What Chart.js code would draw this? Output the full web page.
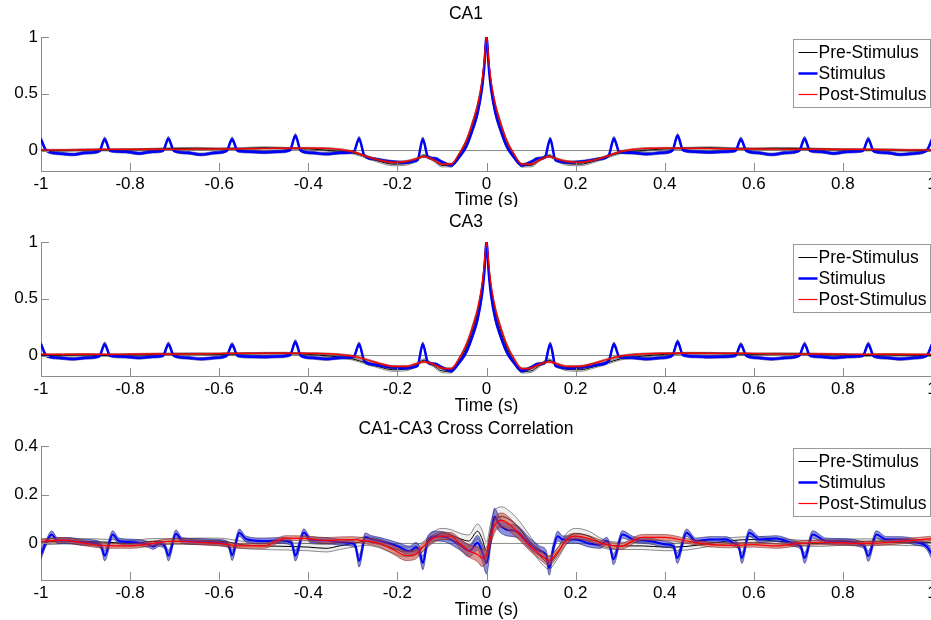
<!DOCTYPE html>
<html>
<head>
<meta charset="utf-8">
<title>CA1 / CA3 correlations</title>
<script src="https://cdn.jsdelivr.net/npm/chart.js@4.4.1/dist/chart.umd.min.js"></script>
<style>
  html, body { margin: 0; padding: 0; background: #fff; overflow: hidden; width: 931px; height: 620px; }
  canvas { position: absolute; left: 0; display: block; }
</style>
</head>
<body>
<canvas id="ca1" width="940" height="207" style="top:0px"></canvas>
<canvas id="ca3" width="940" height="207" style="top:207px"></canvas>
<canvas id="xc" width="940" height="206" style="top:414px"></canvas>
<script>
// ---------- axes ----------
const xTickVals = [-1, -0.8, -0.6, -0.4, -0.2, 0, 0.2, 0.4, 0.6, 0.8, 1];
const xTickLabels = ['-1', '-0.8', '-0.6', '-0.4', '-0.2', '0', '0.2', '0.4', '0.6', '0.8', '1'];
const autoYTicks = [0, 0.5, 1];
const autoYLabels = ['0', '0.5', '1'];
const xcYTicks = [0, 0.2, 0.4];
const xcYLabels = ['0', '0.2', '0.4'];
const seriesNames = ['Pre-Stimulus', 'Stimulus', 'Post-Stimulus'];

// ---------- autocorrelations (CA1, CA3) ----------
// lag grid for the Pre / Post curves
const tSmooth = [-1,-0.95,-0.9,-0.85,-0.8,-0.75,-0.7,-0.65,-0.6,-0.55,-0.5,-0.45,-0.4,-0.35,
  -0.3,-0.27,-0.24,-0.21,-0.18,-0.16,-0.14,-0.12,-0.1,-0.08,-0.06,-0.045,-0.03,-0.02,-0.01,-0.005,
  0,
  0.005,0.01,0.02,0.03,0.045,0.06,0.08,0.1,0.12,0.14,0.16,0.18,0.21,0.24,0.27,0.3,
  0.35,0.4,0.45,0.5,0.55,0.6,0.65,0.7,0.75,0.8,0.85,0.9,0.95,1];

// lag grid for the Stimulus curves (includes the 7 Hz stimulation peaks)
const tStim = [-1,-0.988,-0.96,-0.93,-0.9,-0.869,
  -0.857,-0.845,-0.81,-0.78,-0.75,-0.726,
  -0.714,-0.702,-0.67,-0.64,-0.61,-0.583,
  -0.571,-0.559,-0.53,-0.5,-0.47,-0.441,
  -0.429,-0.417,-0.39,-0.36,-0.33,-0.298,
  -0.286,-0.274,-0.25,-0.22,-0.19,-0.155,
  -0.143,-0.131,-0.115,-0.1,-0.08,-0.06,-0.045,-0.03,-0.02,-0.01,-0.005,
  0,
  0.005,0.01,0.02,0.03,0.045,0.06,0.08,0.1,0.115,0.131,0.143,
  0.155,0.19,0.22,0.25,0.274,0.286,
  0.298,0.33,0.36,0.39,0.417,0.429,
  0.441,0.47,0.5,0.53,0.559,0.571,
  0.583,0.61,0.64,0.67,0.702,0.714,
  0.726,0.75,0.78,0.81,0.845,0.857,
  0.869,0.9,0.93,0.96,0.988,1];

const ca1Pre = [0.0,0.0,0.005,0.005,0.008,0.012,0.018,0.02,0.015,0.018,0.025,0.02,0.015,0.0,
  -0.02,-0.055,-0.095,-0.12,-0.115,-0.085,-0.045,-0.08,-0.13,-0.13,-0.03,0.08,0.25,0.39,0.6,0.78,
  1.0,
  0.78,0.6,0.39,0.25,0.08,-0.03,-0.13,-0.13,-0.08,-0.045,-0.085,-0.115,-0.12,-0.095,-0.055,-0.02,
  0.0,0.015,0.02,0.025,0.018,0.015,0.02,0.018,0.012,0.008,0.005,0.005,0.0,0.0];
const ca1Post = [0.005,0.005,0.008,0.01,0.01,0.012,0.01,0.012,0.015,0.015,0.018,0.02,0.022,0.018,
  -0.01,-0.05,-0.085,-0.105,-0.095,-0.075,-0.053,-0.08,-0.12,-0.12,-0.02,0.09,0.26,0.4,0.62,0.8,
  1.0,
  0.8,0.62,0.4,0.26,0.09,-0.02,-0.12,-0.12,-0.08,-0.053,-0.075,-0.095,-0.105,-0.085,-0.05,-0.01,
  0.018,0.022,0.02,0.018,0.015,0.015,0.012,0.01,0.012,0.01,0.01,0.008,0.005,0.005];
const ca1Stim = [0.1,0.0,-0.025,-0.035,-0.02,-0.005,
  0.1,0.0,-0.01,-0.025,-0.01,0.0,
  0.105,0.0,-0.02,-0.035,-0.02,0.0,
  0.1,0.0,-0.01,-0.015,-0.01,0.005,
  0.13,0.0,-0.02,-0.03,-0.02,-0.01,
  0.105,-0.045,-0.075,-0.095,-0.105,-0.085,
  0.1,-0.06,-0.07,-0.1,-0.13,-0.05,0.04,0.2,0.33,0.55,0.74,
  1.0,
  0.74,0.55,0.33,0.2,0.04,-0.05,-0.13,-0.1,-0.07,-0.06,0.1,
  -0.085,-0.105,-0.095,-0.075,-0.045,0.105,
  -0.01,-0.02,-0.03,-0.02,0.0,0.13,
  0.005,-0.01,-0.015,-0.01,0.0,0.1,
  0.0,-0.02,-0.035,-0.02,0.0,0.105,
  0.0,-0.01,-0.025,-0.01,0.0,0.1,
  -0.005,-0.02,-0.035,-0.025,0.0,0.1];

const ca3Pre = [0.0,0.003,0.005,0.0,0.005,0.01,0.015,0.015,0.01,0.015,0.02,0.02,0.01,-0.005,
  -0.03,-0.065,-0.1,-0.125,-0.12,-0.09,-0.04,-0.085,-0.135,-0.14,-0.04,0.075,0.24,0.38,0.6,0.78,
  1.0,
  0.78,0.6,0.38,0.24,0.075,-0.04,-0.14,-0.135,-0.085,-0.04,-0.09,-0.12,-0.125,-0.1,-0.065,-0.03,
  -0.005,0.01,0.02,0.02,0.015,0.01,0.015,0.015,0.01,0.005,0.0,0.005,0.003,0.0];
const ca3Post = [0.01,0.01,0.012,0.01,0.012,0.015,0.012,0.015,0.018,0.02,0.02,0.022,0.02,0.015,
  -0.005,-0.035,-0.07,-0.095,-0.095,-0.075,-0.055,-0.075,-0.11,-0.115,-0.015,0.1,0.27,0.41,0.63,0.81,
  1.0,
  0.81,0.63,0.41,0.27,0.1,-0.015,-0.115,-0.11,-0.075,-0.055,-0.075,-0.095,-0.095,-0.07,-0.035,-0.005,
  0.015,0.02,0.022,0.02,0.02,0.018,0.015,0.012,0.015,0.012,0.01,0.012,0.01,0.01];
const ca3Stim = [0.1,0.0,-0.02,-0.03,-0.02,-0.005,
  0.1,0.0,-0.01,-0.02,-0.01,0.0,
  0.1,0.0,-0.02,-0.03,-0.02,0.0,
  0.095,0.0,-0.01,-0.012,-0.008,0.005,
  0.12,0.0,-0.02,-0.03,-0.02,-0.01,
  0.1,-0.05,-0.08,-0.1,-0.11,-0.09,
  0.1,-0.065,-0.075,-0.105,-0.135,-0.055,0.035,0.19,0.32,0.54,0.73,
  1.0,
  0.73,0.54,0.32,0.19,0.035,-0.055,-0.135,-0.105,-0.075,-0.065,0.1,
  -0.09,-0.11,-0.1,-0.08,-0.05,0.1,
  -0.01,-0.02,-0.03,-0.02,0.0,0.12,
  0.005,-0.008,-0.012,-0.01,0.0,0.095,
  0.0,-0.02,-0.03,-0.02,0.0,0.1,
  0.0,-0.01,-0.02,-0.01,0.0,0.1,
  -0.005,-0.02,-0.03,-0.02,0.0,0.1];

// standard errors of the autocorrelations (same spread in both regions)
const autoSemPre = [0.008,0.008,0.008,0.008,0.008,0.008,0.008,0.008,0.008,0.008,0.008,0.008,0.008,0.008,
  0.01,0.012,0.012,0.014,0.014,0.012,0.012,0.012,0.014,0.014,0.015,0.02,0.025,0.025,0.02,0.012,
  0.0,
  0.012,0.02,0.025,0.025,0.02,0.015,0.014,0.014,0.012,0.012,0.012,0.014,0.014,0.012,0.012,0.01,
  0.008,0.008,0.008,0.008,0.008,0.008,0.008,0.008,0.008,0.008,0.008,0.008,0.008,0.008];
const autoSemPost = [0.006,0.006,0.006,0.006,0.006,0.006,0.006,0.006,0.006,0.006,0.006,0.006,0.006,0.006,
  0.008,0.008,0.008,0.008,0.008,0.008,0.008,0.008,0.008,0.008,0.01,0.015,0.02,0.02,0.015,0.01,
  0.0,
  0.01,0.015,0.02,0.02,0.015,0.01,0.008,0.008,0.008,0.008,0.008,0.008,0.008,0.008,0.008,0.008,
  0.006,0.006,0.006,0.006,0.006,0.006,0.006,0.006,0.006,0.006,0.006,0.006,0.006,0.006];
const autoSemStim = [0.02,0.012,0.012,0.012,0.012,0.012,
  0.02,0.012,0.012,0.012,0.012,0.012,
  0.02,0.012,0.012,0.012,0.012,0.012,
  0.02,0.012,0.012,0.012,0.012,0.012,
  0.02,0.012,0.012,0.012,0.012,0.012,
  0.02,0.012,0.012,0.012,0.012,0.012,
  0.02,0.012,0.012,0.012,0.014,0.015,0.02,0.025,0.025,0.02,0.012,
  0.0,
  0.012,0.02,0.025,0.025,0.02,0.015,0.014,0.012,0.012,0.012,0.02,
  0.012,0.012,0.012,0.012,0.012,0.02,
  0.012,0.012,0.012,0.012,0.012,0.02,
  0.012,0.012,0.012,0.012,0.012,0.02,
  0.012,0.012,0.012,0.012,0.012,0.02,
  0.012,0.012,0.012,0.012,0.012,0.02,
  0.012,0.012,0.012,0.012,0.012,0.02];

// ---------- CA1-CA3 cross correlation ----------
const tCross = [-1,-0.95,-0.9,-0.85,-0.8,-0.75,-0.7,-0.65,-0.6,-0.55,-0.5,-0.45,-0.4,
  -0.36,-0.33,-0.3,-0.27,-0.24,-0.21,-0.18,-0.16,-0.14,-0.12,-0.1,-0.08,-0.06,-0.04,-0.02,-0.01,0,
  0.01,0.02,0.035,0.05,0.07,0.1,0.12,0.14,0.16,0.18,0.2,0.23,0.26,
  0.3,0.35,0.4,0.45,0.5,0.55,0.6,0.65,0.7,0.75,0.8,0.85,0.9,0.95,1];
const xcPre = [0.005,0.01,0.008,0.005,0.0,0.008,0.008,0.01,0.01,-0.005,-0.01,-0.012,-0.015,
  -0.02,-0.01,0.0,0.01,0.0,-0.02,-0.035,-0.03,-0.01,0.025,0.04,0.035,0.02,0.01,0.05,0.02,-0.03,
  0.05,0.1,0.11,0.1,0.07,0.0,-0.05,-0.08,-0.04,0.02,0.04,0.03,0.0,
  -0.01,-0.01,-0.015,-0.012,0.0,0.012,0.016,0.01,0.002,0.0,0.005,0.007,0.006,0.003,0.003];
const xcPost = [0.008,0.014,0.0,-0.01,-0.01,0.0,0.01,0.005,0.0,-0.01,-0.01,0.022,0.02,
  0.012,0.015,0.016,0.01,0.0,-0.025,-0.05,-0.045,-0.01,0.02,0.03,0.03,0.0,-0.03,-0.045,-0.06,-0.045,
  0.03,0.08,0.095,0.08,0.045,-0.015,-0.045,-0.07,-0.035,0.015,0.03,0.02,0.0,
  -0.012,0.025,0.025,0.01,-0.004,-0.008,-0.005,-0.01,0.0,0.005,0.002,0.0,0.004,0.012,0.02];
const xcSemPre = [0.012,0.012,0.012,0.012,0.012,0.012,0.012,0.012,0.012,0.015,0.015,0.015,0.015,
  0.015,0.015,0.015,0.018,0.018,0.02,0.02,0.02,0.02,0.022,0.022,0.022,0.022,0.025,0.03,0.035,0.035,
  0.04,0.04,0.04,0.035,0.03,0.025,0.025,0.025,0.022,0.022,0.022,0.02,0.018,
  0.015,0.015,0.015,0.015,0.012,0.012,0.012,0.012,0.012,0.012,0.012,0.012,0.012,0.012,0.012];
const xcSemPost = [0.01,0.01,0.01,0.01,0.01,0.01,0.01,0.01,0.01,0.01,0.01,0.01,0.01,
  0.012,0.012,0.012,0.012,0.015,0.018,0.02,0.02,0.015,0.015,0.015,0.015,0.02,0.025,0.03,0.035,0.03,
  0.03,0.03,0.03,0.028,0.025,0.02,0.02,0.02,0.018,0.015,0.012,0.012,0.012,
  0.012,0.012,0.012,0.01,0.01,0.01,0.01,0.01,0.01,0.01,0.01,0.01,0.01,0.01,0.01];

const tCrossStim = [-1,-0.988,-0.976,-0.963,-0.94,-0.91,-0.875,-0.865,
  -0.857,-0.839,-0.825,-0.79,-0.76,-0.748,-0.735,-0.722,
  -0.714,-0.697,-0.683,-0.65,-0.61,-0.585,-0.578,
  -0.571,-0.555,-0.54,-0.5,-0.46,-0.438,
  -0.429,-0.41,-0.395,-0.36,-0.33,-0.3,-0.294,
  -0.286,-0.272,-0.26,-0.24,-0.2,-0.173,-0.158,-0.151,
  -0.143,-0.132,-0.113,-0.09,-0.06,-0.038,-0.02,-0.009,
  0,0.01,0.018,0.029,0.044,0.067,0.097,0.119,0.133,
  0.141,0.15,0.16,0.171,0.2,0.23,0.255,0.27,0.277,
  0.285,0.305,0.33,0.366,0.404,0.42,
  0.428,0.449,0.47,0.5,0.538,0.555,0.566,
  0.573,0.59,0.613,0.65,0.688,0.705,
  0.714,0.732,0.762,0.8,0.838,0.848,
  0.857,0.875,0.897,0.93,0.965,0.987,1];
const xcStim = [-0.045,0.005,0.037,0.012,0.012,0.005,0.0,-0.012,
  -0.05,0.037,0.01,0.005,-0.004,-0.012,0.0,-0.012,
  -0.05,0.04,0.012,0.008,0.005,0.0,-0.012,
  -0.048,0.044,0.018,0.01,0.012,0.003,
  -0.05,0.045,0.015,0.012,0.005,0.0,-0.012,
  -0.072,0.025,0.018,0.01,-0.011,-0.031,-0.016,-0.03,
  -0.08,0.01,0.03,0.025,-0.005,-0.03,0.003,-0.04,
  -0.08,0.03,0.11,0.078,0.057,0.05,0.0,-0.03,-0.045,
  -0.1,-0.02,0.03,0.016,0.016,0.0,-0.005,0.01,-0.012,
  -0.065,0.037,0.016,0.01,-0.004,-0.012,
  -0.06,0.044,0.01,0.016,0.016,0.0,-0.012,
  -0.06,0.044,0.016,0.02,0.0,-0.012,
  -0.06,0.037,0.01,0.008,-0.002,-0.012,
  -0.052,0.037,0.016,0.016,0.005,-0.01,-0.045];
const xcSemStim = [0.02,0.012,0.015,0.012,0.012,0.012,0.012,0.012,
  0.022,0.015,0.012,0.012,0.012,0.012,0.012,0.012,
  0.022,0.015,0.012,0.012,0.012,0.012,0.012,
  0.022,0.015,0.012,0.012,0.012,0.012,
  0.022,0.015,0.012,0.012,0.012,0.012,0.012,
  0.025,0.018,0.015,0.015,0.015,0.02,0.02,0.02,
  0.028,0.02,0.02,0.02,0.022,0.025,0.03,0.035,
  0.045,0.035,0.035,0.03,0.025,0.025,0.022,0.02,0.02,
  0.03,0.02,0.02,0.015,0.015,0.015,0.015,0.015,0.012,
  0.022,0.015,0.012,0.012,0.012,0.012,
  0.022,0.015,0.012,0.012,0.012,0.012,0.012,
  0.022,0.015,0.012,0.012,0.012,0.012,
  0.022,0.015,0.012,0.012,0.012,0.012,
  0.022,0.015,0.012,0.012,0.012,0.012,0.02];

// ---------- styles ----------
const FONT = "'Liberation Sans', Arial, sans-serif";
const AXIS_GREY = '#8c8c8c';
const styles = {
  pre:  { color: '#000000', width: 1,   fill: 'rgba(225,225,225,0.55)', edge: 'rgba(40,40,40,0.75)',  edgeWidth: 0.7 },
  stim: { color: '#0000ff', width: 2.5, fill: 'rgba(45,55,190,0.55)',   edge: 'rgba(20,20,110,0.8)',  edgeWidth: 0.7 },
  post: { color: '#ff0000', width: 1.2, fill: 'rgba(195,70,60,0.55)',   edge: 'rgba(120,30,25,0.75)', edgeWidth: 0.7 }
};

// mean trace plus its shaded error band (upper edge filled down to lower edge)
function seriesDatasets(t, mean, sem, st, lineWidth) {
  const pts = k => t.map((x, i) => ({ x: x, y: mean[i] + k * sem[i] }));
  const common = { pointRadius: 0, pointHoverRadius: 0, cubicInterpolationMode: 'monotone' };
  return [
    Object.assign({}, common, { data: pts(1),  borderColor: st.edge, borderWidth: st.edgeWidth, backgroundColor: st.fill, fill: '+1' }),
    Object.assign({}, common, { data: pts(-1), borderColor: st.edge, borderWidth: st.edgeWidth, fill: false }),
    Object.assign({}, common, { data: pts(0),  borderColor: st.color, borderWidth: lineWidth || st.width, fill: false })
  ];
}

// inward tick marks and the boxed legend in the upper-right corner
const panelDecor = {
  id: 'panelDecor',
  afterDraw(chart) {
    const { ctx, chartArea: a, scales: { x, y } } = chart;
    ctx.save();
    ctx.strokeStyle = AXIS_GREY;
    ctx.lineWidth = 1;
    ctx.beginPath();
    x.ticks.forEach(tk => {
      const px = Math.round(x.getPixelForValue(tk.value)) + 0.5;
      ctx.moveTo(px, a.bottom); ctx.lineTo(px, a.bottom - 8);
    });
    y.ticks.forEach(tk => {
      const py = Math.round(y.getPixelForValue(tk.value)) + 0.5;
      ctx.moveTo(a.left, py); ctx.lineTo(a.left + 8, py);
    });
    ctx.stroke();

    // legend
    const bx = Math.round(a.right) - 139 + 0.5, by = Math.round(a.top) + 2 + 0.5, bw = 137, bh = 68;
    ctx.fillStyle = '#ffffff';
    ctx.fillRect(bx, by, bw, bh);
    ctx.strokeStyle = '#9a9a9a';
    ctx.strokeRect(bx, by, bw, bh);
    const rows = [styles.pre, styles.stim, styles.post];
    const widths = [1, 2.5, 1.2];
    ctx.font = '17.5px ' + FONT;
    ctx.textBaseline = 'middle';
    ctx.textAlign = 'left';
    rows.forEach((st, i) => {
      const ry = by + 13 + i * 21;
      ctx.strokeStyle = st.color;
      ctx.lineWidth = widths[i];
      ctx.beginPath(); ctx.moveTo(bx + 5, ry); ctx.lineTo(bx + 24, ry); ctx.stroke();
      ctx.fillStyle = '#000';
      ctx.fillText(seriesNames[i], bx + 25, ry + 1);
    });
    ctx.restore();
  }
};

function makePanel(id, title, yMin, yMax, yTicks, yLabels, series, lay) {
  const zero = { data: [{ x: xTickVals[0], y: 0 }, { x: xTickVals[xTickVals.length - 1], y: 0 }],
                 borderColor: AXIS_GREY, borderWidth: 1, pointRadius: 0, fill: false };
  const list = [zero].concat(series);
  list.forEach((d, i) => { d.order = list.length - i; });
  const canvas = document.getElementById(id);
  return new Chart(canvas, {
    type: 'line',
    data: { datasets: list },
    plugins: [panelDecor],
    options: {
      responsive: false,
      animation: false,
      events: [],
      devicePixelRatio: 1,
      layout: { padding: { left: 0, right: 8, top: 0, bottom: 0 } },
      plugins: {
        legend: { display: false },
        tooltip: { enabled: false },
        title: { display: true, text: title, color: '#000',
                 font: { family: FONT, size: 17.5, weight: 'normal', lineHeight: 1 },
                 padding: { top: lay.titleTop, bottom: lay.titleBottom } }
      },
      scales: {
        x: {
          type: 'linear', min: xTickVals[0], max: xTickVals[xTickVals.length - 1],
          afterBuildTicks: s => { s.ticks = xTickVals.map(v => ({ value: v })); },
          afterFit: s => { s.height = lay.xHeight; },
          grid: { display: false, drawTicks: false },
          border: { display: true, color: AXIS_GREY, width: 1 },
          ticks: { color: '#000', padding: 3, maxRotation: 0, autoSkip: false,
                   font: { family: FONT, size: 17 },
                   callback: (v, i) => xTickLabels[i] },
          title: { display: true, text: 'Time (s)', color: '#000',
                   font: { family: FONT, size: 17.5, lineHeight: 1 },
                   padding: { top: 0, bottom: lay.xTitleBottom } }
        },
        y: {
          type: 'linear', min: yMin, max: yMax,
          afterBuildTicks: s => { s.ticks = yTicks.map(v => ({ value: v })); },
          afterFit: s => { s.width = 41; },
          grid: { display: false, drawTicks: false },
          border: { display: true, color: AXIS_GREY, width: 1 },
          ticks: { color: '#000', padding: 3, font: { family: FONT, size: 17 },
                   callback: (v, i) => yLabels[i] }
        }
      }
    }
  });
}

makePanel('ca1', 'CA1', -0.18, 1, autoYTicks, autoYLabels,
  [].concat(seriesDatasets(tSmooth, ca1Pre, autoSemPre, styles.pre),
            seriesDatasets(tStim, ca1Stim, autoSemStim, styles.stim),
            seriesDatasets(tSmooth, ca1Post, autoSemPost, styles.post)),
  { titleTop: 5, titleBottom: 14.5, xHeight: 36, xTitleBottom: -2 });

makePanel('ca3', 'CA3', -0.18, 1, autoYTicks, autoYLabels,
  [].concat(seriesDatasets(tSmooth, ca3Pre, autoSemPre, styles.pre),
            seriesDatasets(tStim, ca3Stim, autoSemStim, styles.stim),
            seriesDatasets(tSmooth, ca3Post, autoSemPost, styles.post)),
  { titleTop: 6, titleBottom: 11.5, xHeight: 38, xTitleBottom: -1 });

makePanel('xc', 'CA1-CA3 Cross Correlation', -0.15, 0.4, xcYTicks, xcYLabels,
  [].concat(seriesDatasets(tCross, xcPre, xcSemPre, styles.pre),
            seriesDatasets(tCrossStim, xcStim, xcSemStim, styles.stim, 2),
            seriesDatasets(tCross, xcPost, xcSemPost, styles.post)),
  { titleTop: 6, titleBottom: 8.5, xHeight: 40, xTitleBottom: 1 });
</script>
</body>
</html>
